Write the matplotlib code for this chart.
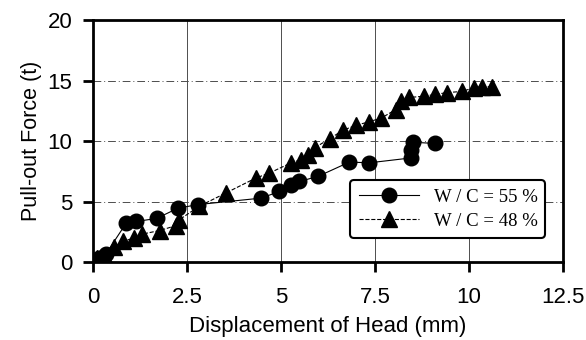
import matplotlib
matplotlib.use('Agg')
import matplotlib.pyplot as plt

# W/C = 55 % (circles)
disp_55 = [0, 0.15, 0.35, 0.88, 1.15, 1.69, 2.26, 2.8, 4.47, 4.96, 5.27, 5.49,
           5.98, 6.82, 7.35, 8.45, 8.45, 8.5, 9.1]
force_55 = [0, 0.3, 0.7, 3.2, 3.35, 3.6, 4.45, 4.75, 5.28, 5.83, 6.38, 6.66,
            7.07, 8.26, 8.2, 8.6, 9.3, 9.9, 9.8]

# W/C = 48 % (triangles)
disp_48 = [0, 0.1, 0.3, 0.55, 0.8, 1.1, 1.3, 1.77, 2.2, 2.3, 2.82, 3.53, 4.33,
           4.69, 5.27, 5.53, 5.71, 5.9, 6.3, 6.65, 7.0, 7.35, 7.67, 8.05, 8.2,
           8.4, 8.8, 9.09, 9.41, 9.81, 10.13, 10.35, 10.6]
force_48 = [0, 0.3, 0.6, 1.2, 1.7, 2.0, 2.3, 2.6, 3.0, 3.5, 4.6, 5.7, 6.94,
            7.35, 8.2, 8.45, 8.87, 9.45, 10.2, 10.9, 11.3, 11.6, 11.9, 12.6, 13.3,
            13.6, 13.7, 13.85, 14.0, 14.1, 14.4, 14.5, 14.5]

x_ticks = [0, 2.5, 5, 7.5, 10, 12.5]
x_tick_labels = ['0', '2.5', '5', '7.5', '10', '12.5']
y_ticks = [0, 5, 10, 15, 20]

plt.rcParams['font.family'] = ['Liberation Sans', 'DejaVu Sans']

fig = plt.figure(figsize=(5.86, 3.4), dpi=100)
ax = fig.add_axes([0.1587, 0.2294, 0.802, 0.7116])

# grid: vertical solid, horizontal dash-dot
for xv in x_ticks[1:-1]:
    ax.axvline(xv, color='0.3', lw=0.7, zorder=1)
for yv in y_ticks[1:-1]:
    ax.axhline(yv, color='0.3', lw=0.7, ls=(0, (8, 3, 1, 3)), zorder=1)

ax.plot(disp_55, force_55, '-', color='black', lw=0.8, marker='o',
        markersize=10.5, label='W / C = 55 %', zorder=3)
ax.plot(disp_48, force_48, '--', color='black', lw=0.8, marker='^',
        markersize=11, label='W / C = 48 %', zorder=3)

ax.set_xlim(0, 12.5)
ax.set_ylim(0, 20)
ax.set_xticks(x_ticks)
ax.set_xticklabels(x_tick_labels)
ax.set_yticks(y_ticks)
ax.tick_params(axis='both', direction='out', length=7, width=2, labelsize=16)
ax.tick_params(axis='x', pad=11)
ax.tick_params(axis='y', pad=8)
for s in ax.spines.values():
    s.set_linewidth(2)

ax.set_xlabel('Displacement of Head (mm)', fontsize=16)
ax.xaxis.set_label_coords(0.5, -0.225)
ax.set_ylabel('Pull-out Force (t)', fontsize=15.5, labelpad=4)

leg = ax.legend(loc='lower left', bbox_to_anchor=(0.547, 0.099, 0.415, 0.24),
                mode='expand', fancybox=True, framealpha=1, edgecolor='black',
                borderaxespad=0, handlelength=3.2, borderpad=0.45,
                labelspacing=0.35,
                prop={'family': 'Liberation Serif', 'size': 13.5})
leg.get_frame().set_linewidth(1.5)
leg.set_zorder(5)

fig.savefig('out.png', dpi=100)
